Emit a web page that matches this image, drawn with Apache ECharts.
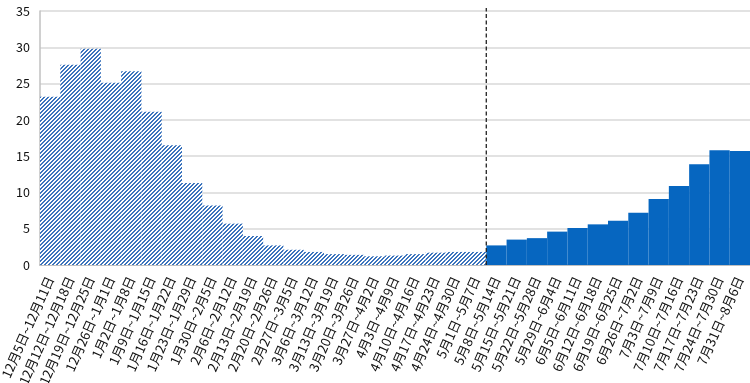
<!DOCTYPE html>
<html><head><meta charset="utf-8">
<script src="https://cdn.jsdelivr.net/npm/echarts@6/dist/echarts.min.js"></script>
<style>html,body{margin:0;padding:0;background:#fff}#c{width:750px;height:383px}</style>
</head><body><div id="c"></div>
<script>
const categories = ['12月5日~12月11日','12月12日~12月18日','12月19日~12月25日','12月26日~1月1日','1月2日~1月8日','1月9日~1月15日','1月16日~1月22日','1月23日~1月29日','1月30日~2月5日','2月6日~2月12日','2月13日~2月19日','2月20日~2月26日','2月27日~3月5日','3月6日~3月12日','3月13日~3月19日','3月20日~3月26日','3月27日~4月2日','4月3日~4月9日','4月10日~4月16日','4月17日~4月23日','4月24日~4月30日','5月1日~5月7日','5月8日~5月14日','5月15日~5月21日','5月22日~5月28日','5月29日~6月4日','6月5日~6月11日','6月12日~6月18日','6月19日~6月25日','6月26日~7月2日','7月3日~7月9日','7月10日~7月16日','7月17日~7月23日','7月24日~7月30日','7月31日~8月6日'];
const pastValues = [23.2,27.6,29.8,25.1,26.7,21.1,16.5,11.3,8.2,5.7,4.0,2.7,2.1,1.8,1.5,1.4,1.2,1.3,1.5,1.7,1.8,1.8];
const currentValues = [2.7,3.5,3.7,4.6,5.1,5.6,6.1,7.2,9.1,10.9,13.9,15.8,15.7];
const yTicks = [0,5,10,15,20,25,30,35];
const splitIndex = pastValues.length;

// hatch pattern
const cv = document.createElement('canvas');
cv.width = 8; cv.height = 8;
const cx = cv.getContext('2d');
cx.fillStyle = '#ffffff'; cx.fillRect(0,0,8,8);
for (let x=0;x<8;x++) for (let y=0;y<8;y++) {
  const m = (x+y)%4;
  if (m===0 || m===1) { cx.fillStyle='#3c74bd'; cx.fillRect(x,y,1,1); }
}

const pastData = categories.map((c,i)=> i<splitIndex ? pastValues[i] : null);
const curData = categories.map((c,i)=> i>=splitIndex ? currentValues[i-splitIndex] : null);

const font = '"Noto Sans CJK JP", "Noto Sans", sans-serif';
const chart = echarts.init(document.getElementById('c'));
chart.setOption({
  animation:false,
  grid:{left:40,right:0,top:11,bottom:118, containLabel:false, outerBoundsMode:'none'},
  xAxis:[{
    type:'category', data:categories,
    axisLine:{lineStyle:{color:'#c0c0c0',width:2}},
    axisTick:{show:false},
    axisLabel:{interval:0, rotate:66, fontSize:13, color:'#111', fontFamily:font, margin:12}
  },{
    type:'value', min:0, max:categories.length, show:false
  }],
  yAxis:{
    type:'value', min:0, max:35, interval:5,
    axisLine:{show:true, lineStyle:{color:'#c0c0c0',width:1.5}},
    axisTick:{show:false},
    splitLine:{lineStyle:{color:'#d9d9d9',width:1.5}},
    axisLabel:{fontSize:12.5, color:'#111', fontFamily:font, margin:10,
      formatter:v=> yTicks.includes(v)? String(v):''}
  },
  series:[
    {type:'bar', stack:'a', data:pastData, barCategoryGap:0, barGap:0,
     itemStyle:{color:{image:cv, repeat:'repeat'}}},
    {type:'bar', stack:'a', data:curData, barCategoryGap:0, barGap:0,
     itemStyle:{color:'#0666c0'}},
    {type:'line', xAxisIndex:1, data:[[splitIndex,0],[splitIndex,35.4]], symbol:'none', clip:false,
     lineStyle:{color:'#222', width:1.3, type:[4,2.5]}, z:5}
  ]
});
</script></body></html>
